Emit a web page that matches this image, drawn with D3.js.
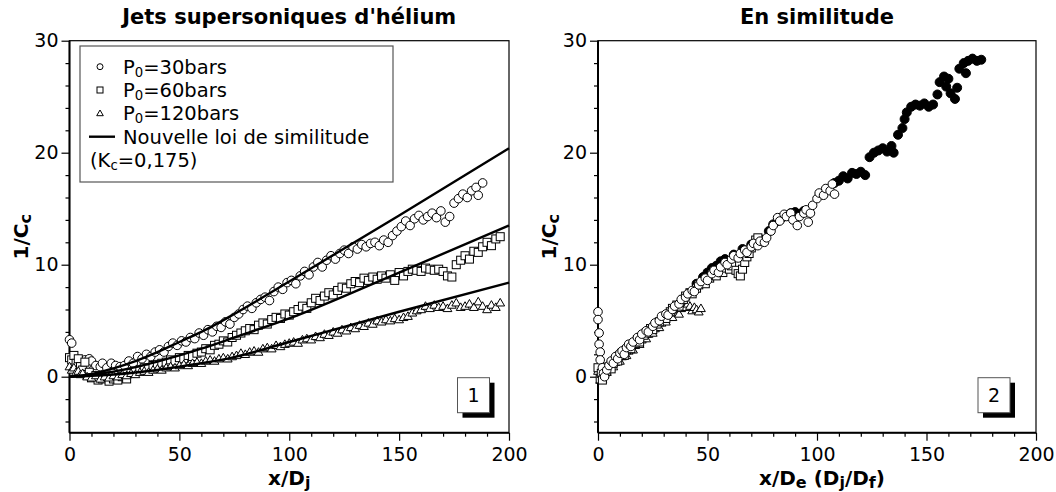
<!DOCTYPE html>
<html>
<head>
<meta charset="utf-8">
<script src="https://cdn.jsdelivr.net/npm/d3@7"></script>
<style>
  body { margin: 0; background: #fff; }
  svg { font-family: 'DejaVu Sans', sans-serif; }
</style>
</head>
<body>
<svg id="chart" width="1056" height="492"></svg>
<script>

// ---- data ----
const xDomain = [0, 200];
const yDomain = [-5, 30];
const xMajorTicks = [0, 50, 100, 150, 200];
const yMajorTicks = [0, 10, 20, 30];

// left panel: 1/Cc vs x/Dj
const p30 = [[0,3.3],[1,3.0],[2,1.8],[3,1.6],[4,1.4],[5,1.3],[7,1.5],[8,1.1],[9,1.6],[10,1.4],[12,1.0],[14,0.9],[15,1.2],[17,0.8],[19,1.2],[21,1.0],[23,0.9],[25,1.0],[27,1.4],[29,1.2],[31,1.8],[33,1.6],[35,2.0],[37,1.8],[39,2.2],[41,2.4],[43,2.2],[45,2.7],[47,3.0],[49,2.8],[51,3.2],[53,3.1],[55,3.5],[57,3.4],[59,3.9],[61,3.7],[63,4.2],[65,4.0],[67,4.5],[69,4.4],[71,4.9],[73,4.7],[75,5.3],[77,5.6],[79,6.0],[81,6.3],[83,6.1],[85,6.6],[87,6.9],[89,7.1],[91,6.8],[93,7.6],[95,8.0],[97,7.8],[99,8.4],[101,8.6],[103,8.3],[105,9.0],[107,9.4],[109,9.1],[111,9.8],[113,10.2],[115,9.8],[117,10.4],[119,10.8],[121,10.5],[123,11.0],[125,11.3],[127,11.0],[129,11.6],[131,11.4],[133,11.8],[135,11.6],[137,11.9],[139,12.0],[141,11.7],[143,12.2],[145,12.0],[147,12.6],[149,13.0],[151,13.4],[153,13.9],[155,13.5],[157,14.1],[159,14.4],[161,14.0],[163,14.3],[165,14.6],[167,14.2],[169,14.8],[171,13.8],[173,14.3],[175,15.5],[177,15.9],[179,16.3],[181,16.0],[183,16.6],[185,16.9],[186,16.2],[188,17.3]];

const p60 = [[0,1.7],[1,1.5],[2,1.9],[3,1.2],[4,1.6],[5,0.9],[6,0.6],[7,1.3],[8,0.2],[9,0.4],[10,-0.1],[12,0.1],[13,-0.3],[15,-0.2],[16,0.0],[18,-0.4],[20,-0.2],[22,-0.3],[24,0.0],[26,-0.2],[28,0.3],[30,0.5],[32,0.6],[34,0.8],[36,0.7],[38,1.0],[40,1.1],[42,1.2],[44,1.3],[46,1.5],[48,1.4],[50,1.7],[52,1.6],[54,1.9],[56,1.8],[58,2.1],[60,2.2],[62,2.5],[64,2.4],[66,2.8],[68,2.9],[70,3.2],[72,3.1],[74,3.5],[76,3.7],[78,3.9],[80,4.1],[82,4.3],[84,4.2],[86,4.6],[88,4.8],[90,4.7],[92,5.1],[94,5.3],[96,5.2],[98,5.6],[100,5.5],[102,5.8],[104,6.0],[106,6.3],[108,6.1],[110,6.6],[112,7.0],[114,6.8],[116,7.2],[118,7.5],[120,7.3],[122,7.7],[124,8.0],[126,7.9],[128,8.3],[130,8.5],[132,8.4],[134,8.8],[136,8.6],[138,8.9],[140,8.7],[142,9.0],[144,8.8],[146,9.1],[148,8.6],[150,9.3],[152,9.0],[154,9.4],[156,9.6],[158,9.5],[160,9.4],[162,9.7],[164,9.6],[166,9.5],[168,9.6],[170,9.4],[172,9.0],[174,8.9],[176,10.0],[178,10.4],[180,10.8],[182,10.5],[184,11.2],[186,11.1],[188,11.6],[190,12.0],[192,11.7],[194,12.3],[196,12.5]];

const p120 = [[0,0.9],[1,0.6],[2,0.8],[3,0.4],[4,0.5],[5,0.2],[6,0.3],[8,0.0],[10,-0.1],[12,0.1],[14,-0.2],[16,0.0],[18,-0.1],[20,0.1],[22,0.0],[24,0.2],[26,0.1],[28,0.3],[30,0.2],[32,0.4],[34,0.5],[36,0.4],[38,0.6],[40,0.7],[42,0.6],[44,0.8],[46,0.9],[48,0.8],[50,1.0],[52,1.1],[54,1.0],[56,1.2],[58,1.3],[60,1.2],[62,1.4],[64,1.5],[66,1.4],[68,1.6],[70,1.7],[72,1.6],[74,1.8],[76,1.9],[78,2.1],[80,2.0],[82,2.2],[84,2.3],[86,2.2],[88,2.5],[90,2.6],[92,2.5],[94,2.8],[96,2.7],[98,2.9],[100,3.0],[102,3.1],[104,3.0],[106,3.3],[108,3.4],[110,3.3],[112,3.6],[114,3.5],[116,3.8],[118,3.7],[120,4.0],[122,3.9],[124,4.2],[126,4.1],[128,4.4],[130,4.3],[132,4.6],[134,4.5],[136,4.8],[138,4.7],[140,5.0],[142,4.9],[144,5.1],[146,5.0],[148,5.2],[150,5.1],[152,5.3],[154,5.4],[156,5.7],[158,5.9],[160,6.0],[162,6.3],[164,6.1],[166,6.4],[168,6.2],[170,6.3],[172,6.1],[174,6.4],[176,6.6],[178,6.2],[180,6.3],[182,6.5],[184,6.2],[186,6.7],[188,6.3],[190,6.0],[192,6.4],[194,6.2],[196,6.6]];

// similarity law curves (Kc = 0,175)
const law30 = [[0,0],[10,0.25],[20,0.75],[30,1.4],[40,2.2],[50,3.1],[60,4.0],[75,5.6],[100,8.5],[150,14.4],[200,20.4]];
const law60 = [[0,0],[10,0.15],[20,0.45],[30,0.85],[40,1.35],[50,1.9],[60,2.5],[75,3.5],[100,5.2],[150,9.3],[200,13.5]];
const law120 = [[0,0],[10,0.07],[20,0.2],[30,0.38],[40,0.6],[50,0.9],[60,1.2],[75,1.75],[100,3.1],[150,5.8],[200,8.4]];

// right panel: rescaled abscissa
const s30 = [[0,5.8],[0,5.1],[0.5,3.9],[0.5,2.9],[1,2.2],[1,1.5],[2,0.8],[2.5,0.3],[3,0.0],[4,0.6],[5,1.0],[6,1.4],[7,1.2],[8,1.8],[9,1.6],[10,2.1],[11,2.3],[12,2.0],[13,2.6],[14,2.9],[15,2.7],[16,3.1],[18,3.5],[19,3.3],[20,3.8],[22,4.1],[23,4.0],[25,4.5],[26,4.8],[28,5.0],[29,5.4],[31,5.6],[32,5.5],[34,6.0],[35,6.3],[37,6.5],[38,6.9],[40,7.1],[41,7.4],[43,7.7],[44,7.6],[46,8.2],[47,8.5],[49,8.8],[50,8.6],[52,9.2],[53,9.5],[55,9.3],[56,9.8],[58,10.2],[59,10.0],[61,10.5],[62,10.8],[64,10.6],[65,11.0],[67,11.3],[68,11.1],[70,11.6],[71,11.9],[73,11.7],[74,12.1],[76,12.0],[77,12.4],[79,13.0],[80,13.5],[82,14.2],[83,13.9],[85,14.5],[86,14.3],[88,14.6],[89,14.0],[91,13.5],[92,14.3],[94,14.6],[95,14.9],[96,13.8],[97,14.6],[98,15.3],[100,15.9],[101,16.4],[103,16.2],[104,16.8],[106,16.6],[107,17.2],[108,16.3]];

const s60 = [[0,0.8],[1,-0.2],[1.5,0.3],[2,-0.3],[3,0.2],[4,0.5],[5,0.9],[6,0.7],[7,1.2],[8,1.5],[9,1.4],[10,1.9],[11,2.1],[12,1.9],[13,2.4],[14,2.6],[15,2.5],[17,3.0],[18,3.3],[19,3.1],[21,3.7],[22,3.9],[24,4.3],[25,4.2],[27,4.7],[28,4.9],[30,5.3],[31,5.2],[33,5.8],[34,6.1],[36,6.4],[37,6.3],[39,6.9],[40,7.2],[42,7.5],[43,7.4],[45,7.9],[46,8.2],[48,8.5],[49,8.3],[51,8.8],[52,9.1],[54,9.0],[55,9.4],[57,9.3],[58,9.7],[60,9.6],[61,9.9],[63,9.5],[64,9.2],[65,9.0],[66,9.6],[67,10.2],[68,10.7],[69,11.0],[70,11.5],[71,11.8],[72,12.2],[73,12.4]];

const s120 = [[0,0.5],[1,-0.3],[1.5,0.2],[2,-0.2],[3,0.3],[4,0.4],[5,0.8],[6,1.0],[7,0.9],[8,1.3],[9,1.5],[10,1.4],[11,1.8],[12,2.0],[13,1.9],[14,2.3],[15,2.5],[16,2.4],[17,2.8],[18,3.0],[19,2.9],[20,3.3],[21,3.5],[22,3.4],[23,3.8],[24,4.0],[25,3.9],[26,4.3],[27,4.5],[28,4.4],[29,4.8],[30,5.0],[31,4.9],[32,5.3],[33,5.5],[34,5.3],[35,5.7],[36,5.9],[37,5.6],[38,6.1],[39,6.4],[40,6.2],[41,6.5],[42,6.3],[43,5.9],[44,6.2],[45,6.0],[46,5.8],[47,6.1]];

const sFilled = [[45,8.3],[48,8.9],[50,9.3],[52,9.7],[54,9.9],[56,10.3],[58,10.5],[62,10.9],[66,11.4],[70,11.8],[74,12.3],[78,13.0],[80,13.6],[82,13.9],[84,14.2],[86,14.4],[88,14.6],[90,14.7],[92,14.5],[94,14.8],[108,17.3],[110,17.5],[112,17.9],[114,17.7],[116,18.2],[118,18.1],[120,18.3],[122,18.0],[124,19.6],[126,20.0],[128,20.2],[130,20.4],[132,20.1],[134,20.6],[135,20.0],[137,21.6],[139,22.2],[140,23.0],[141,23.6],[143,24.1],[145,24.3],[147,24.2],[149,24.4],[151,24.1],[153,24.3],[155,25.2],[156,26.3],[158,26.8],[159,25.9],[160,26.6],[161,25.3],[163,24.8],[164,25.8],[165,27.5],[167,28.0],[168,27.1],[169,28.2],[171,28.4],[173,28.2],[175,28.3]];

const legendLabels = ['=30bars', '=60bars', '=120bars', 'Nouvelle loi de similitude'];

// ---- helpers ----
function subText(sel, parts, size, subScale) {
    // parts: [text, isSubscript]
    const k = subScale || 0.7;
    const shift = size * 0.15;
    parts.forEach((p, i) => {
        const prevSub = i > 0 && parts[i - 1][1];
        if (p[1]) {
            sel.append('tspan').attr('font-size', size * k).attr('dy', prevSub ? 0 : shift).text(p[0]);
        } else {
            sel.append('tspan').attr('dy', prevSub ? -shift : 0).text(p[0]);
        }
    });
}

function drawMarker(g, shape, x, y, r) {
    if (shape === 'circle' || shape === 'dot') {
        g.append('circle').attr('cx', x).attr('cy', y).attr('r', r)
            .attr('fill', shape === 'dot' ? '#000' : '#fff')
            .attr('stroke', '#000').attr('stroke-width', 1);
    } else if (shape === 'square') {
        g.append('rect').attr('x', x - r).attr('y', y - r).attr('width', 2 * r).attr('height', 2 * r)
            .attr('fill', '#fff').attr('stroke', '#000').attr('stroke-width', 1);
    } else {
        g.append('path').attr('d', `M${x},${y - r * 1.1}L${x + r * 1.1},${y + r * 0.8}L${x - r * 1.1},${y + r * 0.8}Z`)
            .attr('fill', '#fff').attr('stroke', '#000').attr('stroke-width', 1);
    }
}

class ScatterPanel {

    constructor(_config) {
        this.config = {
            svg: _config.svg,
            left: _config.left,
            top: _config.top,
            width: _config.width,
            height: _config.height,
            title: _config.title,
            xLabel: _config.xLabel,
            xLabelShift: _config.xLabelShift || 0,
            tag: _config.tag,
            tagX: _config.tagX
        };
        this.series = _config.series || [];
        this.lines = _config.lines || [];
        this.initVis();
    }

    initVis() {
        let vis = this;

        vis.chart = vis.config.svg.append('g')
            .attr('transform', `translate(${vis.config.left},${vis.config.top})`);

        vis.xScale = d3.scaleLinear().domain(xDomain).range([0, vis.config.width]);
        vis.yScale = d3.scaleLinear().domain(yDomain).range([vis.config.height, 0]);

        vis.renderAxes();
        vis.render();
        vis.renderLabels();
    }

    renderAxes() {
        let vis = this;
        const w = vis.config.width, h = vis.config.height;

        // frame
        vis.chart.append('rect')
            .attr('width', w).attr('height', h)
            .attr('fill', 'none').attr('stroke', '#000').attr('stroke-width', 1.2);
        vis.chart.append('line').attr('x1', 0).attr('x2', 0).attr('y1', 0).attr('y2', h)
            .attr('stroke', '#000').attr('stroke-width', 2);
        vis.chart.append('line').attr('x1', 0).attr('x2', w).attr('y1', h).attr('y2', h)
            .attr('stroke', '#000').attr('stroke-width', 2);

        const xMinor = d3.range(0, 201, 10).filter(v => v % 50 !== 0);
        const yMinor = d3.range(-4, 31, 2).filter(v => v % 10 !== 0);

        const styleAxis = g => {
            g.select('.domain').remove();
            g.attr('font-size', 19).attr('font-family', "'DejaVu Sans', sans-serif");
            g.selectAll('line').attr('stroke-width', 1.2);
        };

        vis.chart.append('g').attr('transform', `translate(0,${h})`)
            .call(d3.axisBottom(vis.xScale).tickValues(xMajorTicks).tickSize(8).tickPadding(7))
            .call(styleAxis);
        vis.chart.append('g').attr('transform', `translate(0,${h})`)
            .call(d3.axisBottom(vis.xScale).tickValues(xMinor).tickSize(4).tickFormat(''))
            .call(styleAxis);
        vis.chart.append('g')
            .call(d3.axisLeft(vis.yScale).tickValues(yMajorTicks).tickSize(8).tickPadding(3))
            .call(styleAxis);
        vis.chart.append('g')
            .call(d3.axisLeft(vis.yScale).tickValues(yMinor).tickSize(4).tickFormat(''))
            .call(styleAxis);
    }

    render() {
        let vis = this;
        vis.series.forEach(s => {
            const g = vis.chart.append('g').attr('class', 'series');
            s.data.forEach(d => drawMarker(g, s.shape, vis.xScale(d[0]), vis.yScale(d[1]), s.r));
        });

        const line = d3.line()
            .x(d => vis.xScale(d[0]))
            .y(d => vis.yScale(d[1]))
            .curve(d3.curveMonotoneX);
        vis.lines.forEach(l => {
            vis.chart.append('path').datum(l)
                .attr('d', line)
                .attr('fill', 'none').attr('stroke', '#000').attr('stroke-width', 2.4);
        });
    }

    renderLabels() {
        let vis = this;
        const w = vis.config.width, h = vis.config.height;

        vis.chart.append('text')
            .attr('x', w / 2).attr('y', -17)
            .attr('text-anchor', 'middle')
            .attr('font-size', 21).attr('font-weight', 'bold')
            .text(vis.config.title);

        const xl = vis.chart.append('text')
            .attr('x', w / 2 + vis.config.xLabelShift).attr('y', h + 52)
            .attr('text-anchor', 'middle')
            .attr('font-size', 20).attr('font-weight', 'bold');
        subText(xl, vis.config.xLabel, 20, 0.8);

        const yl = vis.chart.append('text')
            .attr('transform', `translate(-42,${h / 2}) rotate(-90)`)
            .attr('text-anchor', 'middle')
            .attr('font-size', 20).attr('font-weight', 'bold');
        subText(yl, [['1/C', false], ['c', true]], 20, 0.8);

        // numbered tag with drop shadow
        const tg = vis.chart.append('g').attr('transform', `translate(${vis.config.tagX},${h - 55})`);
        tg.append('rect').attr('x', 5).attr('y', 5).attr('width', 32).attr('height', 35).attr('fill', '#000');
        tg.append('rect').attr('width', 32).attr('height', 35)
            .attr('fill', '#fff').attr('stroke', '#555').attr('stroke-width', 1);
        tg.append('text').attr('x', 16).attr('y', 24.5)
            .attr('text-anchor', 'middle').attr('font-size', 19)
            .text(vis.config.tag);
    }
}

const svg = d3.select('#chart');

const left = new ScatterPanel({
    svg: svg, left: 69.5, top: 40.7, width: 439.5, height: 392,
    title: "Jets supersoniques d'hélium",
    xLabel: [['x/D', false], ['j', true]],
    tag: '1', tagX: 388,
    series: [
        {data: p30, shape: 'circle', r: 4.3},
        {data: p60, shape: 'square', r: 4},
        {data: p120, shape: 'triangle', r: 4}
    ],
    lines: [law30, law60, law120]
});

const right = new ScatterPanel({
    svg: svg, left: 598, top: 40.7, width: 438, height: 392,
    title: 'En similitude',
    xLabel: [['x/D', false], ['e', true], [' (D', false], ['j', true], ['/D', false], ['f', true], [')', false]],
    xLabelShift: 5,
    tag: '2', tagX: 380,
    series: [
        {data: sFilled, shape: 'dot', r: 4.5},
        {data: s120, shape: 'triangle', r: 4},
        {data: s60, shape: 'square', r: 4},
        {data: s30, shape: 'circle', r: 4.3}
    ]
});

// legend of the left panel
const lg = svg.append('g').attr('transform', 'translate(80,46)');
lg.append('rect').attr('width', 313).attr('height', 136)
    .attr('fill', '#fff').attr('stroke', '#555').attr('stroke-width', 1.2);
const rowY = [20.7, 44, 67.3, 90.7, 114];
const legendShapes = ['circle', 'square', 'triangle'];
legendShapes.forEach((s, i) => drawMarker(lg, s, 20, rowY[i], 3));
lg.append('line').attr('x1', 9).attr('x2', 35).attr('y1', rowY[3]).attr('y2', rowY[3])
    .attr('stroke', '#000').attr('stroke-width', 2.4);
legendLabels.forEach((t, i) => {
    const tx = lg.append('text').attr('x', 43).attr('y', rowY[i] + 7).attr('font-size', 19.5);
    if (i < 3) subText(tx, [['P', false], ['0', true], [t, false]], 19.5, 0.68);
    else tx.text(t);
});
const kc = lg.append('text').attr('x', 10).attr('y', rowY[4] + 7).attr('font-size', 19.5);
subText(kc, [['(K', false], ['c', true], ['=0,175)', false]], 19.5, 0.68);

</script>
</body>
</html>
